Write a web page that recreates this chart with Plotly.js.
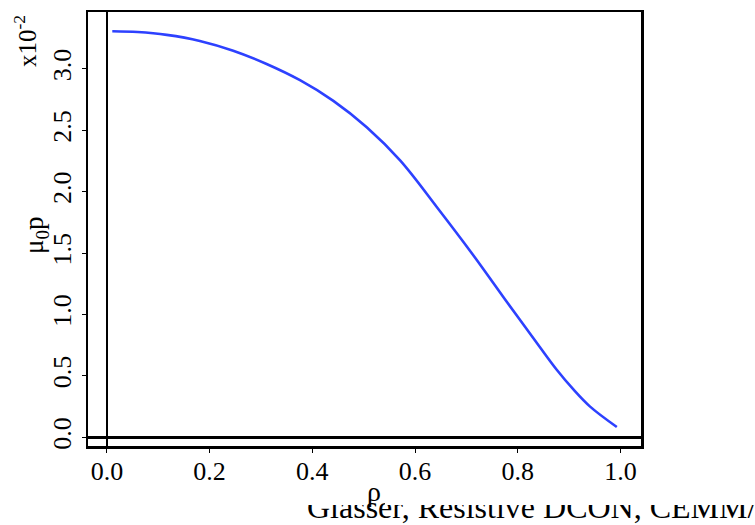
<!DOCTYPE html>
<html>
<head>
<meta charset="utf-8">
<script src="https://cdn.plot.ly/plotly-3.0.1.min.js"></script>
<style>html,body{margin:0;padding:0;background:#fff;}#chart{width:755px;height:525px;}</style>
</head>
<body>
<div id="chart"></div>
<script>
// Data (pressure profile, in units of 1e-2)
const rho  = [0.0105, 0.06, 0.1165, 0.181, 0.246, 0.311, 0.376, 0.441, 0.506, 0.571, 0.642, 0.7135, 0.779, 0.843, 0.876, 0.908, 0.941, 0.993];
const mu0p = [3.307, 3.300, 3.277, 3.228, 3.148, 3.040, 2.908, 2.740, 2.525, 2.255, 1.878, 1.483, 1.102, 0.735, 0.550, 0.392, 0.250, 0.084];
const xTicks = [0.0, 0.2, 0.4, 0.6, 0.8, 1.0];
const yTicks = [0.0, 0.5, 1.0, 1.5, 2.0, 2.5, 3.0];
const xTitle = 'ρ';
const yTitle = 'μ<sub>0</sub>p';
const scaleLabel = 'x10<sup>-2</sup>';
const footer = 'Glasser, Resistive DCON, CEMM/';

const W = 755, H = 525;
const M = {l: 88, r: 114, t: 12, b: 79};
const pw = W - M.l - M.r, ph = H - M.t - M.b;
const px = x => (x - M.l) / pw;
const py = y => (H - M.b - y) / ph;

const serif = 'Liberation Serif, serif';
const axisCommon = {
  showline: true, mirror: true, linecolor: '#000', linewidth: 2.5,
  showgrid: false, zeroline: true, zerolinecolor: '#000', zerolinewidth: 2.5,
  ticks: 'outside', ticklen: 4, tickwidth: 1, tickcolor: '#000',
  tickfont: {family: serif, size: 26, color: '#000'},
  tickformat: '.1f', tickmode: 'array'
};

const trace = {
  x: rho, y: mu0p, type: 'scatter', mode: 'lines',
  line: {color: 'rgb(45,65,255)', width: 2.6, shape: 'spline', smoothing: 1},
  hoverinfo: 'skip'
};

const cover = (x0, x1, y0, y1) => ({
  text: '&nbsp;', xref: 'paper', yref: 'paper', x: px((x0 + x1) / 2), y: py((y0 + y1) / 2),
  xanchor: 'center', yanchor: 'middle', width: x1 - x0, height: y1 - y0,
  bgcolor: '#fff', showarrow: false, borderpad: 0, borderwidth: 0,
  font: {size: 4}
});

const layout = {
  width: W, height: H, margin: M,
  paper_bgcolor: '#fff', plot_bgcolor: '#fff', showlegend: false,
  xaxis: Object.assign({}, axisCommon, {range: [-0.0368, 1.0401], tickvals: xTicks, ticklabelstandoff: -4}),
  yaxis: Object.assign({}, axisCommon, {range: [-0.0708, 3.4633], tickvals: yTicks, tickangle: -90}),
  annotations: [
    {text: footer, xref: 'paper', yref: 'paper', x: px(305), y: py(507), xanchor: 'left', yanchor: 'middle',
     showarrow: false, font: {family: serif, size: 32, color: '#000'}},
    cover(290, 364, 481, 505),
    cover(385, 760, 481, 505),
    {text: xTitle, xref: 'paper', yref: 'paper', x: px(374), y: py(491), xanchor: 'center', yanchor: 'middle',
     showarrow: false, font: {family: serif, size: 28, color: '#000'}},
    {text: yTitle, xref: 'paper', yref: 'paper', x: px(36), y: py(236), xanchor: 'center', yanchor: 'middle',
     textangle: -90, showarrow: false, font: {family: serif, size: 27, color: '#000'}},
    {text: scaleLabel, xref: 'paper', yref: 'paper', x: px(25), y: py(41), xanchor: 'center', yanchor: 'middle',
     textangle: -90, showarrow: false, font: {family: serif, size: 25, color: '#000'}}
  ]
};

Plotly.newPlot('chart', [trace], layout, {staticPlot: true, displayModeBar: false});
</script>
</body>
</html>
